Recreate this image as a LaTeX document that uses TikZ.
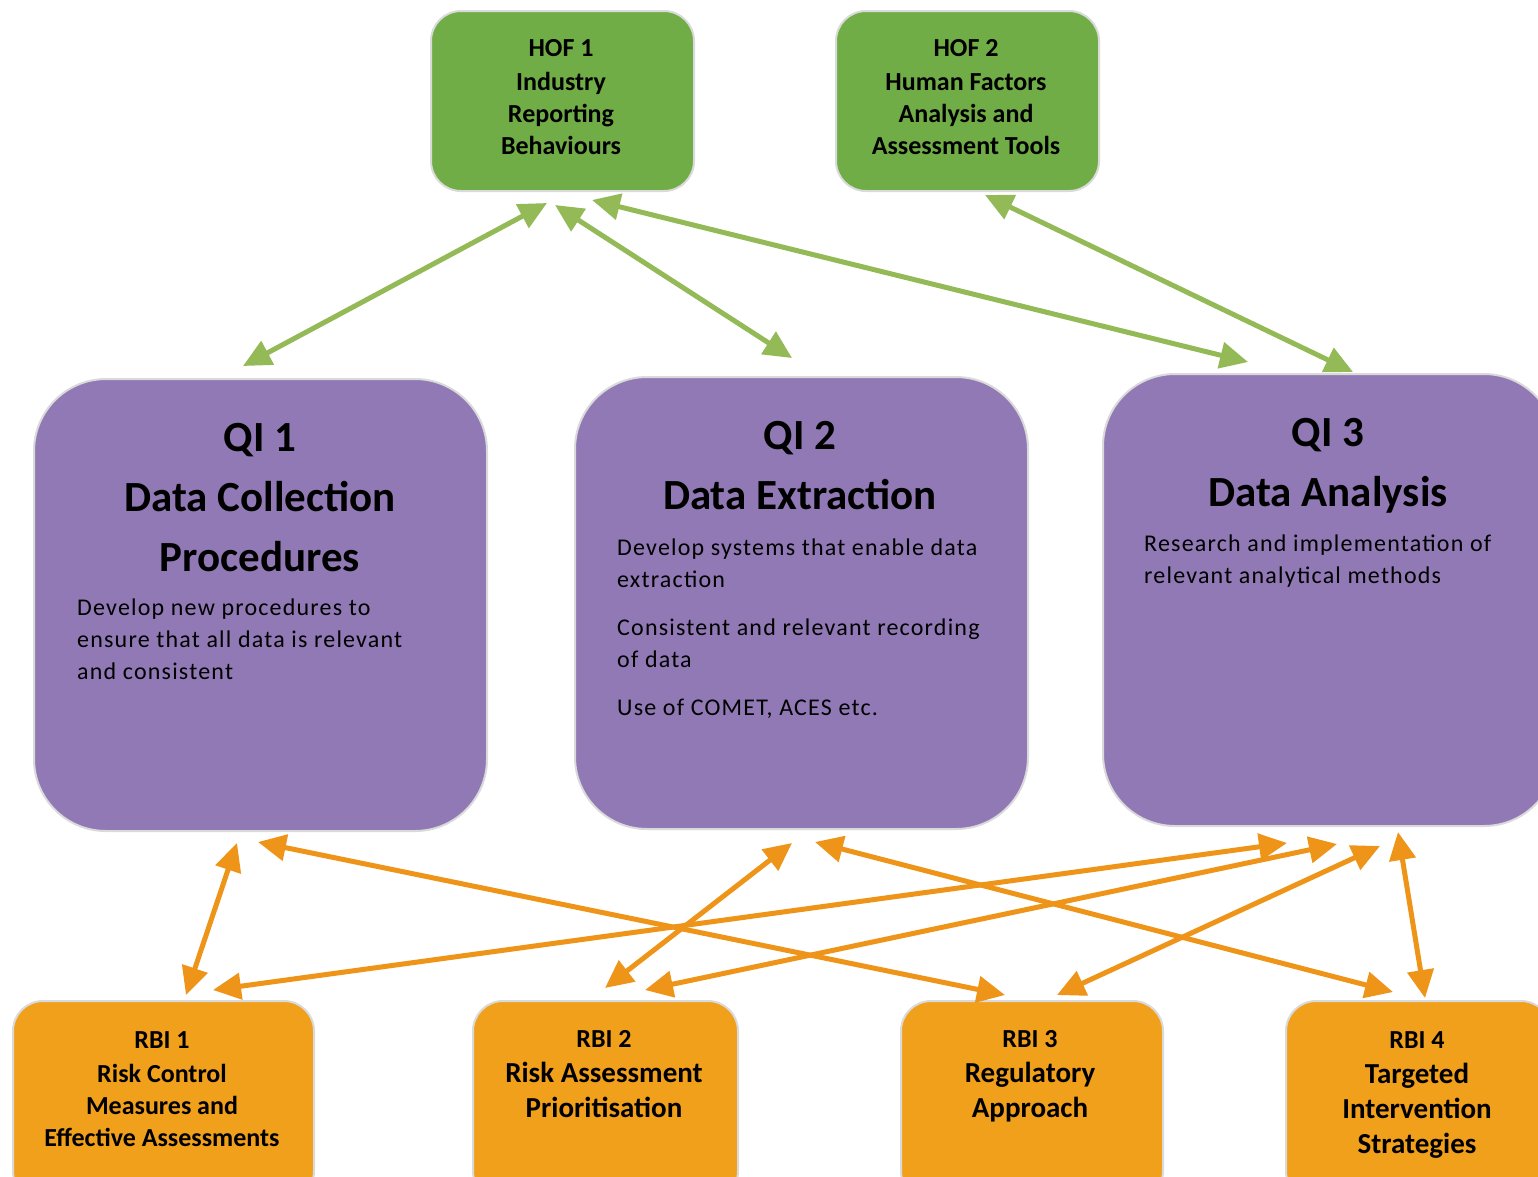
\documentclass[tikz,border=0pt]{standalone}
\usepackage{fontspec}
\setmainfont{Carlito}
\usetikzlibrary{arrows.meta}
\definecolor{gbox}{HTML}{70AD47}
\definecolor{pbox}{HTML}{9179B5}
\definecolor{obox}{HTML}{F1A01B}
\definecolor{garr}{HTML}{93BA57}
\definecolor{oarr}{HTML}{EE9419}
\definecolor{edgec}{HTML}{DADADA}
\begin{document}
\begin{tikzpicture}[x=1pt,y=-1pt,
  box/.style={draw=edgec, line width=2pt, inner sep=0pt, anchor=north west},
  hofbox/.style={box, fill=gbox, rounded corners=30pt, minimum width=263pt, minimum height=180pt},
  qibox/.style={box, fill=pbox, rounded corners=72pt, minimum width=453pt, minimum height=452pt},
  rbibox/.style={box, fill=obox, rounded corners=30pt, minimum height=200pt},
  smalltxt/.style={inner sep=0pt, anchor=base, align=center, font=\fontsize{26}{32}\selectfont\bfseries},
  bigtxt/.style={inner sep=0pt, anchor=base, align=center, font=\fontsize{29}{35}\selectfont\bfseries},
  qititle/.style={inner sep=0pt, anchor=base, align=center, font=\fontsize{43}{60}\selectfont\bfseries},
  qibody/.style={inner sep=0pt, anchor=base west, align=left, font=\fontsize{24}{32}\selectfont\addfontfeatures{LetterSpace=5}},
  link/.style={line width=5pt, {Triangle[length=28pt,width=26pt]}-{Triangle[length=28pt,width=26pt]}},
  glink/.style={link, draw=garr},
  olink/.style={link, draw=oarr}]
\useasboundingbox (0,0) rectangle (1538,1176);
\clip (0,0) rectangle (1538,1176);

% boxes
\node[hofbox] (hof1) at (430,10) {};
\node[hofbox] (hof2) at (835,10) {};
\node[qibox] (qi1) at (33,378) {};
\node[qibox] (qi2) at (574,376) {};
\node[qibox] (qi3) at (1102,373) {};
\node[rbibox, minimum width=301pt] (rbi1) at (12,1000) {};
\node[rbibox, minimum width=265pt] (rbi2) at (472,1000) {};
\node[rbibox, minimum width=262pt] (rbi3) at (900,1000) {};
\node[rbibox, minimum width=265pt] (rbi4) at (1285,1000) {};

% texts (anchored at the baseline of the last line)
\node[smalltxt] (hof1t) at (561,154) {HOF 1\\[2pt]Industry\\Reporting\\Behaviours};
\node[smalltxt] (hof2t) at (966,154) {HOF 2\\[2pt]Human Factors\\Analysis and\\Assessment Tools};

\node[qititle] (qi1t) at (260,571) {QI 1\\Data Collection\\Procedures};
\node[qibody] (qi1b) at (77,679) {Develop new procedures to\\ensure that all data is relevant\\and consistent};

\node[qititle] (qi2t) at (800,509) {QI 2\\Data Extraction};
\node[qibody] (qi2b) at (617,715) {Develop systems that enable data\\extraction\\[16pt]Consistent and relevant recording\\of data\\[16pt]Use of COMET, ACES etc.};

\node[qititle] (qi3t) at (1328,506) {QI 3\\Data Analysis};
\node[qibody] (qi3b) at (1144,583) {Research and implementation of\\relevant analytical methods};

\node[smalltxt] (rbi1t) at (162,1146) {RBI 1\\[2pt]Risk Control\\Measures and\\Effective Assessments};
\node[bigtxt] (rbi2t) at (604,1117) {\fontsize{26}{34}\selectfont RBI 2\\Risk Assessment\\Prioritisation};
\node[bigtxt] (rbi3t) at (1030,1117) {\fontsize{26}{34}\selectfont RBI 3\\Regulatory\\Approach};
\node[bigtxt] (rbi4t) at (1417,1153) {\fontsize{26}{34}\selectfont RBI 4\\Targeted\\Intervention\\Strategies};

% connector end points
\coordinate (h1a) at (547,203);  \coordinate (q1g) at (243,366);
\coordinate (h1b) at (555,205);  \coordinate (q2g) at (792,358);
\coordinate (h1c) at (592,200);  \coordinate (q3ga) at (1248,362);
\coordinate (h2a) at (985,195);  \coordinate (q3gb) at (1353,372);

\coordinate (q1oa) at (237,843); \coordinate (r1a) at (186,995);
\coordinate (q1ob) at (258,842); \coordinate (r3a) at (1005,995);
\coordinate (q2oa) at (792,843); \coordinate (r2a) at (605,988);
\coordinate (q2ob) at (815,842); \coordinate (r4a) at (1393,992);
\coordinate (q3oa) at (1287,843); \coordinate (r1b) at (213,990);
\coordinate (q3ob) at (1337,844); \coordinate (r2b) at (645,990);
\coordinate (q3oc) at (1380,846); \coordinate (r3b) at (1057,995);
\coordinate (q3od) at (1398,832); \coordinate (r4b) at (1425,998);

% green connectors
\draw[glink] (h1a) -- (q1g);
\draw[glink] (h1b) -- (q2g);
\draw[glink] (h1c) -- (q3ga);
\draw[glink] (h2a) -- (q3gb);

% orange connectors
\draw[olink] (q1oa) -- (r1a);
\draw[olink] (q1ob) -- (r3a);
\draw[olink] (q2oa) -- (r2a);
\draw[olink] (q2ob) -- (r4a);
\draw[olink] (q3oa) -- (r1b);
\draw[olink] (q3ob) -- (r2b);
\draw[olink] (q3oc) -- (r3b);
\draw[olink] (q3od) -- (r4b);
\end{tikzpicture}
\end{document}
